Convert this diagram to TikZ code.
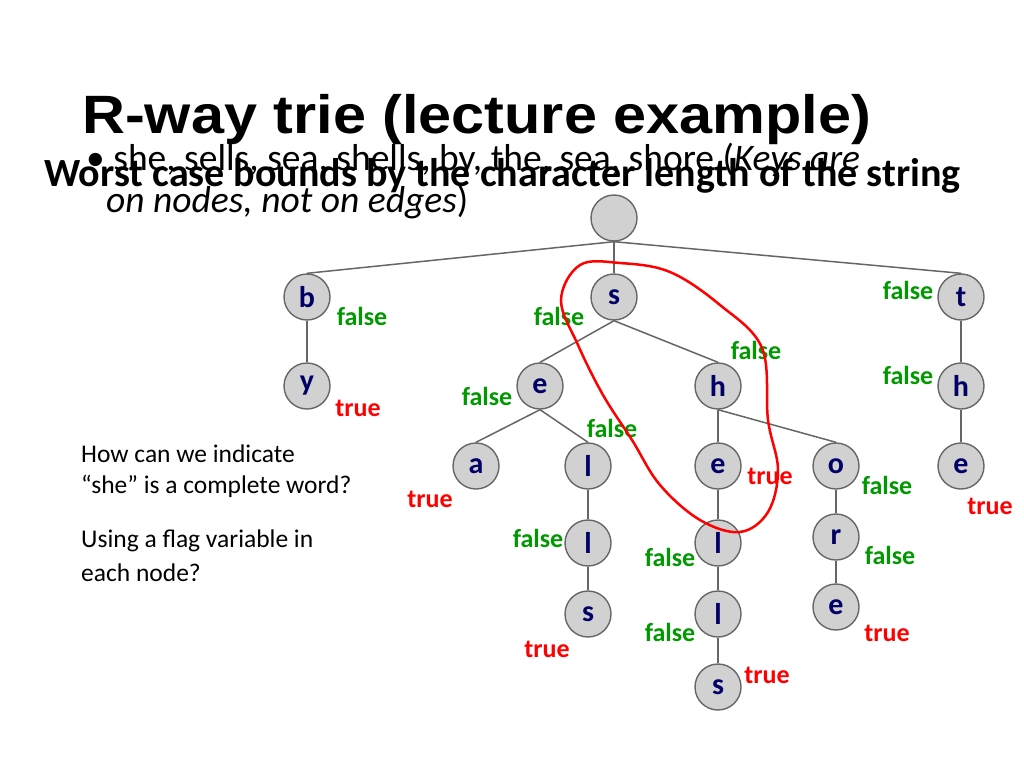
\documentclass[tikz,border=0pt]{standalone}
\usepackage{fontspec}
\setmainfont{Carlito}
\newfontfamily\titlefont{Liberation Sans}
\begin{document}
\begin{tikzpicture}[x=1pt,y=-1pt,
  tn/.style={circle,draw=black!60,line width=1.4pt,fill=black!18,minimum size=46pt,inner sep=0pt,font=\bfseries\fontsize{30}{30}\selectfont,text=blue!40!black},
  ed/.style={draw=black!60,line width=1.5pt},
  fl/.style={font=\bfseries\fontsize{26}{26}\selectfont,text=green!60!black,inner sep=0pt},
  tr/.style={font=\bfseries\fontsize{26}{26}\selectfont,text=red,inner sep=0pt},
  side/.style={font=\fontsize{25.5}{26}\selectfont,anchor=west,inner sep=0pt}]
\useasboundingbox (0,0) rectangle (1024,768);
\node[anchor=base west,inner sep=0pt,xscale=1.1,font=\titlefont\bfseries\fontsize{54}{54}\selectfont] (title) at (82,133) {R-way trie (lecture example)};
\node[anchor=base west,inner sep=0pt,font=\fontsize{37.5}{38}\selectfont] (b1) at (86,170) {• she, sells, sea, shells, by, the, sea, shore (\textit{Keys are}};
\node[anchor=base west,inner sep=0pt,font=\fontsize{37.5}{38}\selectfont] (b2) at (106,212) {\textit{on nodes, not on edges})};
\node[anchor=base west,inner sep=0pt,font=\bfseries\fontsize{40}{40}\selectfont] (wc) at (44,186) {Worst case bounds by the character length of the string};
\node[tn] (root) at (614,218) {};
\node[tn] (b) at (307,297) {b};
\node[tn] (s) at (614,297) {s};
\node[tn] (t) at (961,297) {t};
\node[tn] (y) at (307,386) {y};
\node[tn] (e) at (540,386) {e};
\node[tn] (h) at (718,386) {h};
\node[tn] (th) at (961,386) {h};
\node[tn] (a) at (476,466) {a};
\node[tn] (l) at (588,466) {l};
\node[tn] (he) at (718,466) {e};
\node[tn] (o) at (836,466) {o};
\node[tn] (the) at (961,466) {e};
\node[tn] (ll) at (588,543) {l};
\node[tn] (hl) at (718,543) {l};
\node[tn] (r) at (836,537) {r};
\node[tn] (ls) at (588,614) {s};
\node[tn] (hll) at (718,614) {l};
\node[tn] (re) at (836,607) {e};
\node[tn] (hls) at (718,687) {s};
\foreach \p/\c in {root/b,root/s,root/t,b/y,s/e,s/h,e/a,e/l,h/he,h/o,t/th,th/the,l/ll,ll/ls,he/hl,hl/hll,hll/hls,o/r,r/re}
  \draw[ed] (\p.south) -- (\c.north);
\node[fl] at (362,316) {false};
\node[fl] at (559,316) {false};
\node[fl] at (908,290) {false};
\node[fl] at (756,350) {false};
\node[fl] at (908,375) {false};
\node[tr] at (358,408) {true};
\node[fl] at (487,396) {false};
\node[fl] at (612,428) {false};
\node[tr] at (770,476) {true};
\node[fl] at (887,485) {false};
\node[tr] at (430,499) {true};
\node[tr] at (990,506) {true};
\node[fl] at (538,538) {false};
\node[fl] at (670,557) {false};
\node[fl] at (890,555) {false};
\node[fl] at (670,632) {false};
\node[tr] at (887,633) {true};
\node[tr] at (547,649) {true};
\node[tr] at (767,675) {true};
\node[side] at (81,454) {How can we indicate};
\node[side] at (81,486) {“she” is a complete word?};
\node[side] at (81,541) {Using a flag variable in};
\node[side] at (81,573) {each node?};
\draw[red,line width=2.5pt] plot[smooth cycle,tension=0.6] coordinates {(580,265) (620,263) (670,272) (720,305) (762,348) (768,420) (778,470) (768,512) (740,532) (700,520) (660,485) (632,440) (603,395) (578,345) (561,300)};
\end{tikzpicture}
\end{document}
